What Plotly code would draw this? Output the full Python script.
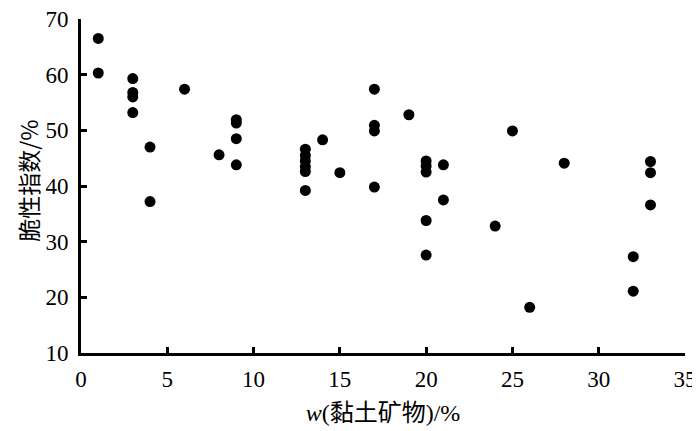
import plotly.graph_objects as go

# 黏土矿物含量 (%) vs 脆性指数 (%)
clay = [1, 1,
        3, 3, 3, 3,
        4, 4,
        6,
        8,
        9, 9, 9, 9,
        13, 13, 13, 13, 13, 13,
        14,
        15,
        17, 17, 17, 17,
        19,
        20, 20, 20, 20, 20,
        21, 21,
        24,
        25,
        26,
        28,
        32, 32,
        33, 33, 33]
brittle = [66.5, 60.3,
           59.3, 56.8, 56.0, 53.2,
           47.0, 37.2,
           57.4,
           45.6,
           51.9, 51.3, 48.5, 43.8,
           46.6, 45.5, 44.5, 43.5, 42.6, 39.2,
           48.3,
           42.4,
           57.4, 50.9, 49.9, 39.8,
           52.8,
           44.5, 43.6, 42.5, 33.8, 27.6,
           43.8, 37.5,
           32.8,
           49.9,
           18.2,
           44.1,
           27.3, 21.1,
           44.4, 42.4, 36.6]

fig = go.Figure(go.Scatter(
    x=clay, y=brittle, mode='markers',
    marker=dict(color='black', size=11, line=dict(width=0)),
    showlegend=False
))

serif = "Liberation Serif, Times New Roman, Noto Sans CJK SC"

# page body has an 8px margin, so the figure is a little smaller
fig.update_layout(
    width=692, height=423,
    margin=dict(l=73, r=15, t=11, b=78),
    plot_bgcolor='white', paper_bgcolor='white',
    font=dict(family=serif, size=23, color='black'),
    xaxis=dict(
        range=[0, 35], dtick=5, showgrid=False, zeroline=False,
        showline=True, linecolor='black', linewidth=3,
        ticks='inside', ticklen=6, tickwidth=3, tickcolor='black',
        ticklabelstandoff=3, automargin=False, ticklabeloverflow='allow',
        title=dict(text='<i>w</i>(黏土矿物)/%', standoff=14,
                   font=dict(size=24, family=serif)),
    ),
    yaxis=dict(
        range=[10, 70], dtick=10, showgrid=False, zeroline=False,
        showline=True, linecolor='black', linewidth=3,
        ticks='inside', ticklen=6, tickwidth=3, tickcolor='black',
        ticklabelstandoff=5, automargin=False, ticklabeloverflow='allow',
    ),
)

# y title as annotation so it sits further left
fig.add_annotation(
    text='脆性指数/%', textangle=-90,
    xref='paper', yref='paper', x=-0.088, y=0.515,
    xanchor='center', yanchor='middle', showarrow=False,
    font=dict(size=23, family="Noto Sans CJK SC"),
)

fig.write_html("out.html")
